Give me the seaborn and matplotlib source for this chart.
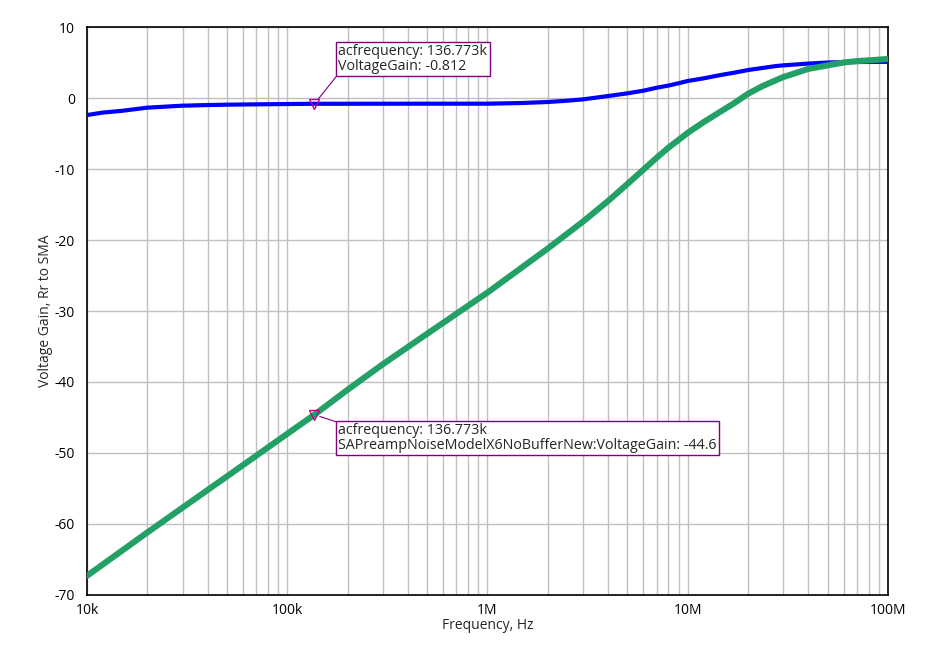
import numpy as np
import pandas as pd
import matplotlib
matplotlib.use("Agg")
import matplotlib.pyplot as plt
import seaborn as sns
from matplotlib.ticker import LogLocator, FixedLocator, FixedFormatter, NullFormatter

# Voltage gain (Hz, dB)
blue_freq = [1e4, 1.2e4, 1.5e4, 2e4, 3e4, 4e4, 5e4, 7e4, 1e5, 136773, 2e5, 5e5, 1e6, 1.5e6, 2e6, 2.5e6,
             3e6, 4e6, 5e6, 6e6, 7e6, 8e6, 9e6, 1e7, 1.2e7, 1.46e7, 1.7e7, 2e7, 2.75e7, 3e7, 4e7, 5e7,
             6e7, 8e7, 1e8]
blue_gain = [-2.4, -2.05, -1.8, -1.36, -1.08, -0.99, -0.94, -0.89, -0.85, -0.812, -0.81, -0.8, -0.8, -0.7, -0.56, -0.38,
             -0.19, 0.28, 0.66, 1.03, 1.45, 1.75, 2.08, 2.4, 2.77, 3.24, 3.56, 3.94, 4.5, 4.6, 4.85, 5.0,
             5.05, 5.08, 5.1]

green_freq = [1e4, 2e4, 3e4, 5e4, 1e5, 136773, 2e5, 3e5, 5e5, 1e6, 2e6, 3e6, 4e6, 5e6, 6e6,
              7e6, 8e6, 9e6, 1e7, 1.2e7, 1.46e7, 1.7e7, 2e7, 2.35e7, 2.75e7, 3e7, 4e7, 5e7, 6e7,
              7e7, 8e7, 1e8]
green_gain = [-67.3, -61.2, -57.7, -53.3, -47.3, -44.6, -41.1, -37.5, -33.2, -27.4, -21.2, -17.4, -14.5, -12.1, -10.1,
              -8.4, -7.0, -5.9, -4.9, -3.4, -1.9, -0.75, 0.6, 1.65, 2.5, 2.95, 4.1, 4.6, 5.0,
              5.2, 5.3, 5.5]

x_ticks = [1e4, 1e5, 1e6, 1e7, 1e8]
x_labels = ["10k", "100k", "1M", "10M", "100M"]
y_ticks = [10, 0, -10, -20, -30, -40, -50, -60, -70]

marker_freq = 136773
blue_label = "acfrequency: 136.773k\nVoltageGain: -0.812"
green_label = "acfrequency: 136.773k\nSAPreampNoiseModelX6NoBufferNew:VoltageGain: -44.6"

sns.set_style("white")
plt.rcParams['font.family'] = ['Open Sans', 'DejaVu Sans']
plt.rcParams['axes.unicode_minus'] = False

blue_df = pd.DataFrame({"freq": blue_freq, "gain": blue_gain})
green_df = pd.DataFrame({"freq": green_freq, "gain": green_gain})

fig = plt.figure(figsize=(9.33, 6.72), dpi=100)
ax = fig.add_axes([0.0932, 0.1146, 0.8586, 0.8452])

sns.lineplot(data=blue_df, x="freq", y="gain", color="#0000ff", linewidth=3.0, ax=ax, zorder=3)
sns.lineplot(data=green_df, x="freq", y="gain", color="#23a066", linewidth=4.4, ax=ax, zorder=4)

ax.set_xscale("log")
ax.set_xlim(1e4, 1e8)
ax.set_ylim(-70, 10)

ax.xaxis.set_major_locator(FixedLocator(x_ticks))
ax.xaxis.set_major_formatter(FixedFormatter(x_labels))
ax.xaxis.set_minor_locator(LogLocator(base=10, subs=np.arange(2, 10)))
ax.xaxis.set_minor_formatter(NullFormatter())
ax.set_yticks(y_ticks)

ax.grid(True, which="major", color="#c0c0c0", linewidth=1.0)
ax.grid(True, which="minor", axis="x", color="#c0c0c0", linewidth=1.0)
ax.set_axisbelow(True)

ax.tick_params(axis="both", which="major", direction="inout", length=10, width=1,
               labelsize=10, colors="black")
ax.tick_params(axis="x", which="major", pad=1)
ax.tick_params(axis="x", which="minor", length=0)
for s in ax.spines.values():
    s.set_color("black")
    s.set_linewidth(1.2)

ax.set_xlabel("Frequency, Hz", fontsize=10, labelpad=0)
ax.set_ylabel("Voltage Gain, Rr to SMA", fontsize=10, labelpad=1)

# markers with annotation boxes
bval = blue_gain[blue_freq.index(marker_freq)]
gval = green_gain[green_freq.index(marker_freq)]
for val in [bval, gval]:
    ax.plot([marker_freq], [val], marker="v", markersize=7, markerfacecolor="none",
            markeredgecolor="#c0008a", markeredgewidth=1.0, zorder=6)

box = dict(boxstyle="square,pad=0.15", facecolor="white", edgecolor="#800080", linewidth=1.0)
ax.annotate(blue_label, xy=(marker_freq, bval), xytext=(24, 30), textcoords="offset pixels",
            ha="left", va="bottom", fontsize=10.3, linespacing=1.0, bbox=box, zorder=7,
            arrowprops=dict(arrowstyle="-", color="#800080", lw=0.8, relpos=(0, 0),
                            shrinkA=0, shrinkB=4))
ax.annotate(green_label, xy=(marker_freq, gval), xytext=(24, -8), textcoords="offset pixels",
            ha="left", va="top", fontsize=10.3, linespacing=1.0, bbox=box, zorder=7,
            arrowprops=dict(arrowstyle="-", color="#800080", lw=0.8, relpos=(0, 1),
                            shrinkA=0, shrinkB=4))

fig.savefig("out.png", dpi=100)
